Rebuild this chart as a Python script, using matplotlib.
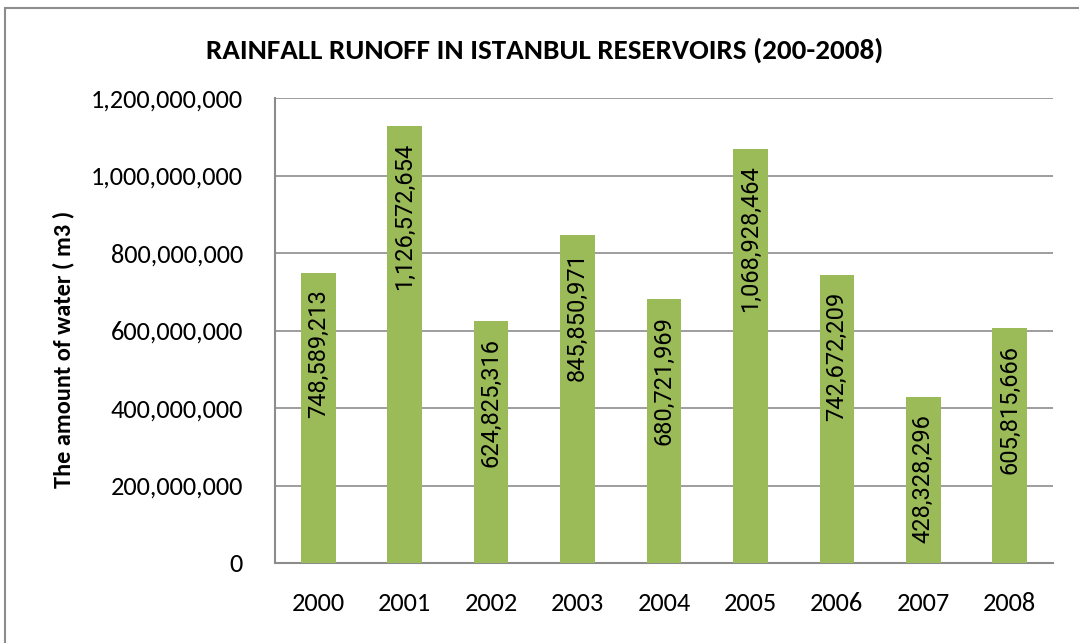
import matplotlib
matplotlib.use("Agg")
import matplotlib.pyplot as plt
from matplotlib.ticker import FuncFormatter
from matplotlib.patches import Rectangle

# ── Data ───────────────────────────────────────────────────────
years = ["2000", "2001", "2002", "2003", "2004", "2005", "2006", "2007", "2008"]
runoff = [748589213, 1126572654, 624825316, 845850971, 680721969,
          1068928464, 742672209, 428328296, 605815666]

BAR_COLOR = "#9BBB59"
GRID_COLOR = "#8C8C8C"
CAL = ["Carlito", "DejaVu Sans"]

fig = plt.figure(figsize=(10.79, 6.43), dpi=100)
ax = fig.add_axes([275 / 1079, 1 - 563 / 643, 778 / 1079, 465 / 643])

x = list(range(len(years)))
ax.bar(x, runoff, width=0.4, color=BAR_COLOR, zorder=3)

ax.set_xlim(-0.5, len(years) - 0.5)
ax.set_ylim(0, 1200000000)
ax.set_yticks(range(0, 1200000001, 200000000))
ax.yaxis.set_major_formatter(FuncFormatter(lambda v, p: f"{int(v):,}"))
ax.set_xticks(x)
ax.set_xticklabels(years)

for lbl in ax.get_xticklabels() + ax.get_yticklabels():
    lbl.set_family(CAL)
    lbl.set_fontsize(19)

ax.tick_params(axis="both", length=0)
ax.tick_params(axis="x", pad=21)
ax.tick_params(axis="y", pad=23)

ax.grid(axis="y", color=GRID_COLOR, linewidth=1.2, zorder=0)
for side in ["top", "right"]:
    ax.spines[side].set_visible(False)
for side in ["left", "bottom"]:
    ax.spines[side].set_color(GRID_COLOR)
    ax.spines[side].set_linewidth(1.5)

# value labels, rotated, inside end of each bar
for xi, v in zip(x, runoff):
    ax.annotate(f"{v:,}", xy=(xi, v), xytext=(0, -12),
                textcoords="offset points", rotation=90,
                ha="center", va="top", fontsize=17,
                family=["Roboto", "DejaVu Sans"], color="black", zorder=4)

ax.set_ylabel("The amount of water ( m3 )", family=CAL, fontsize=17.5,
              fontweight="bold")
ax.yaxis.set_label_coords(-0.258, 0.46)

fig.text(545 / 1079, 1 - 50 / 643, "RAINFALL RUNOFF IN ISTANBUL RESERVOIRS (200-2008)",
         ha="center", va="center", family=CAL, fontsize=21, fontweight="bold")

# chart area border
fig.patches.append(Rectangle((5 / 1079, -0.05), 1.2, 1.05 - 8 / 643,
                             transform=fig.transFigure, fill=False,
                             edgecolor="#8C8C8C", linewidth=1.5))

fig.savefig("out.png", dpi=100)
